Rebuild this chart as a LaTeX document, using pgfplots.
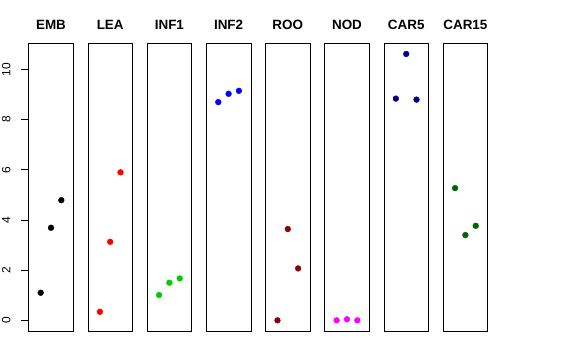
\documentclass[border=0pt]{standalone}
\usepackage{fontspec}
\setmainfont{Liberation Sans}
\usepackage{pgfplots}
\pgfplotsset{compat=1.18}
\definecolor{rgreen}{RGB}{0,205,0}
\definecolor{rred}{RGB}{255,0,0}
\definecolor{rblue}{RGB}{0,0,255}
\definecolor{rmagenta}{RGB}{255,0,255}
\definecolor{rdarkred}{RGB}{139,0,0}
\definecolor{rdarkblue}{RGB}{0,0,139}
\definecolor{rdarkgreen}{RGB}{0,100,0}
\pgfplotsset{
  panel/.style={
    scale only axis, width=44.6bp, height=287.7bp,
    anchor=south west,
    xmin=-0.16, xmax=4.16, ymin=-0.425, ymax=11.045,
    xtick=\empty, ytick=\empty,
    axis line style={line width=0.8bp, black},
    title style={font=\bfseries\fontsize{13.5}{13.5}\selectfont, at={(0.5,1)}, anchor=base, yshift=8.3bp},
    clip=false,
  },
  pts/.style={only marks, mark=*, mark size=2.9bp, mark options={draw=#1, fill=#1}},
}
\begin{document}
\begin{tikzpicture}
\useasboundingbox (0bp,0bp) rectangle (576bp,360bp);
\begin{axis}[panel, at={(28.7bp,29bp)}, title={EMB},
  ytick={0,2,4,6,8,10}, ytick pos=left, ytick align=outside,
  major tick length=7.5bp,
  every tick/.style={draw=black, line width=0.8bp},
  /pgf/number format/assume math mode=true,
  yticklabel style={xshift=-15bp, rotate=90, anchor=center, font=\fontsize{12}{12}\selectfont, inner sep=0pt}]
\addplot[pts=black] coordinates {(1,1.10) (2,3.69) (3,4.79)};
\end{axis}
\begin{axis}[panel, at={(87.9bp,29bp)}, title={LEA}]
\addplot[pts=rred] coordinates {(1,0.34) (2,3.13) (3,5.90)};
\end{axis}
\begin{axis}[panel, at={(147.1bp,29bp)}, title={INF1}]
\addplot[pts=rgreen] coordinates {(1,1.01) (2,1.50) (3,1.67)};
\end{axis}
\begin{axis}[panel, at={(206.3bp,29bp)}, title={INF2}]
\addplot[pts=rblue] coordinates {(1,8.70) (2,9.03) (3,9.15)};
\end{axis}
\begin{axis}[panel, at={(265.5bp,29bp)}, title={ROO}]
\addplot[pts=rdarkred] coordinates {(1,0.00) (2,3.64) (3,2.07)};
\end{axis}
\begin{axis}[panel, at={(324.7bp,29bp)}, title={NOD}]
\addplot[pts=rmagenta] coordinates {(1,0.00) (2,0.04) (3,0.00)};
\end{axis}
\begin{axis}[panel, at={(383.9bp,29bp)}, title={CAR5}]
\addplot[pts=rdarkblue] coordinates {(1,8.84) (2,10.62) (3,8.80)};
\end{axis}
\begin{axis}[panel, at={(443.1bp,29bp)}, title={CAR15}]
\addplot[pts=rdarkgreen] coordinates {(1,5.27) (2,3.40) (3,3.77)};
\end{axis}
\end{tikzpicture}
\end{document}
